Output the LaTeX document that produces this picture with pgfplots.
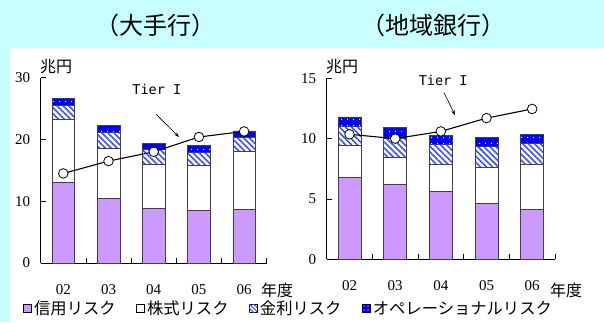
\documentclass[border=0pt]{standalone}
\usepackage{pgfplots}
\pgfplotsset{compat=1.18}
\usepackage{pgfplotstable}
\usepackage{fontspec}
\setmainfont{Liberation Serif}
\newfontfamily\jp{Noto Sans CJK JP}
\newfontfamily\monof{DejaVu Sans Mono}
\usetikzlibrary{patterns.meta,arrows.meta}
\definecolor{bgcyan}{RGB}{200,255,255}
\definecolor{credit}{RGB}{204,153,255}
\definecolor{opblue}{RGB}{0,0,255}
\definecolor{stripe}{RGB}{60,80,255}

\pgfplotstableread{
x credit stock rate op tier
0 13.0 10.2 2.3 1.15 14.5
1 10.5 8.0 2.7 1.1 16.5
2 8.9 7.1 2.4 1.0 18.0
3 8.55 7.25 2.1 1.2 20.4
4 8.7 9.4 2.2 1.1 21.3
}\major
\pgfplotstableread{
x credit stock rate op tier
0 6.8 2.62 1.58 0.8 10.36
1 6.2 2.25 1.55 0.9 10.0
2 5.65 2.22 1.63 0.8 10.6
3 4.6 3.0 1.74 0.76 11.7
4 4.15 3.72 1.73 0.76 12.46
}\regional

\pgfplotsset{
  base/.style={
    scale only axis, anchor=south west,
    xmin=-0.5, xmax=4.5, ymin=0,
    axis x line=bottom, axis y line=left,
    axis line style={-, line width=0.8pt, black},
    tick align=inside, major tick length=5bp,
    xtick={0.5,1.5,2.5,3.5,4.5}, xticklabels={},
    extra x ticks={0,1,2,3,4}, extra x tick labels={02,03,04,05,06},
    extra x tick style={major tick length=0pt},
    xticklabel style={yshift=-18bp},
    yticklabel style={xshift=-7bp},
    tick style={black, line width=0.7pt},
    ticklabel style={font=\fontsize{15bp}{18bp}\selectfont},
    /pgf/number format/assume math mode=true,
  },
  bars/.style={base, ybar stacked, bar width=0.5,
    every axis plot/.append style={draw=black!75, line width=0.6pt}},
  linestyle/.style={scale only axis, anchor=south west, xmin=-0.5, xmax=4.5, ymin=0, hide axis, clip=false},
  rate/.style={fill=white, postaction={pattern={Lines[angle=-45,distance=4.2bp,line width=1.6bp]}, pattern color=stripe}},
  oprisk/.style={fill=opblue, postaction={pattern={Dots[distance=6bp,radius=0.7bp]}, pattern color=white}},
  tierline/.style={black, line width=1.1pt, mark=*, mark size=4.8bp, mark options={fill=white, draw=black, line width=0.8pt}},
}

\begin{document}
\begin{tikzpicture}[x=1bp,y=1bp]
\fill[bgcyan] (0,0) rectangle (604,322);
\fill[white] (10,0) rectangle (604,274);
\path[use as bounding box] (0,0) rectangle (604,322);

% titles
\node[font=\jp\fontsize{24bp}{28bp}\selectfont] at (155.5,297) {（大手行）};
\node[font=\jp\fontsize{24bp}{28bp}\selectfont] at (433.5,297) {（地域銀行）};

% left chart
\begin{axis}[bars, at={(40.7bp,59bp)}, width=226bp, height=185.3bp, ymax=30, ytick={0,10,20,30}]
\addplot[fill=credit] table[x=x,y=credit]{\major};
\addplot[fill=white] table[x=x,y=stock]{\major};
\addplot[rate] table[x=x,y=rate]{\major};
\addplot[oprisk] table[x=x,y=op]{\major};
\end{axis}
\begin{axis}[linestyle, at={(40.7bp,59bp)}, width=226bp, height=185.3bp, ymax=30]
\addplot[tierline] table[x=x,y=tier]{\major};
\node[font=\monof\fontsize{13.5bp}{16bp}\selectfont] at (axis cs:2.07,28.1) {Tier I};
\draw[-{Stealth[length=5bp,width=3.5bp]}, line width=0.6pt] (axis cs:2.05,24.1) -- (axis cs:2.56,20.4);
\end{axis}

% right chart
\begin{axis}[bars, at={(326.7bp,62.7bp)}, width=228.3bp, height=181bp, ymax=15, ytick={0,5,10,15}]
\addplot[fill=credit] table[x=x,y=credit]{\regional};
\addplot[fill=white] table[x=x,y=stock]{\regional};
\addplot[rate] table[x=x,y=rate]{\regional};
\addplot[oprisk] table[x=x,y=op]{\regional};
\end{axis}
\begin{axis}[linestyle, at={(326.7bp,62.7bp)}, width=228.3bp, height=181bp, ymax=15]
\addplot[tierline] table[x=x,y=tier]{\regional};
\node[font=\monof\fontsize{13.5bp}{16bp}\selectfont] at (axis cs:2.05,14.85) {Tier I};
\draw[-{Stealth[length=5bp,width=3.5bp]}, line width=0.6pt] (axis cs:2.07,13.8) -- (axis cs:2.31,11.95);
\end{axis}

% axis unit labels
\node[font=\jp\fontsize{16bp}{18bp}\selectfont, anchor=south west, inner sep=0] at (40,248) {兆円};
\node[font=\jp\fontsize{16bp}{18bp}\selectfont, anchor=south west, inner sep=0] at (326,248) {兆円};
\node[font=\jp\fontsize{16bp}{18bp}\selectfont, anchor=west, inner sep=0] at (261,32) {年度};
\node[font=\jp\fontsize{16bp}{18bp}\selectfont, anchor=west, inner sep=0] at (550,32) {年度};

% legend
\begin{scope}[every node/.style={inner sep=0}]
\def\lf{\jp\fontsize{16.3bp}{19bp}\selectfont}
\node[draw=black, line width=0.5pt, fill=credit, minimum size=8bp, anchor=west] (s1) at (23,14) {};
\node[font=\lf, anchor=west] (t1) at ([xshift=2.5bp]s1.east) {信用リスク};
\node[draw=black, line width=0.5pt, fill=white, minimum size=8bp, anchor=west] (s2) at ([xshift=20bp]t1.east) {};
\node[font=\lf, anchor=west] (t2) at ([xshift=2.5bp]s2.east) {株式リスク};
\node[draw=black, line width=0.5pt, fill=white, postaction={pattern={Lines[angle=-45,distance=3bp,line width=1.1bp]}, pattern color=stripe}, minimum size=8bp, anchor=west] (s3) at ([xshift=20bp]t2.east) {};
\node[font=\lf, anchor=west] (t3) at ([xshift=2.5bp]s3.east) {金利リスク};
\node[draw=black, line width=0.5pt, fill=opblue, postaction={pattern={Dots[distance=4bp,radius=0.6bp]}, pattern color=white}, minimum size=8bp, anchor=west] (s4) at ([xshift=20bp]t3.east) {};
\node[font=\lf, anchor=west] (t4) at ([xshift=2.5bp]s4.east) {オペレーショナルリスク};
\end{scope}
\end{tikzpicture}
\end{document}
